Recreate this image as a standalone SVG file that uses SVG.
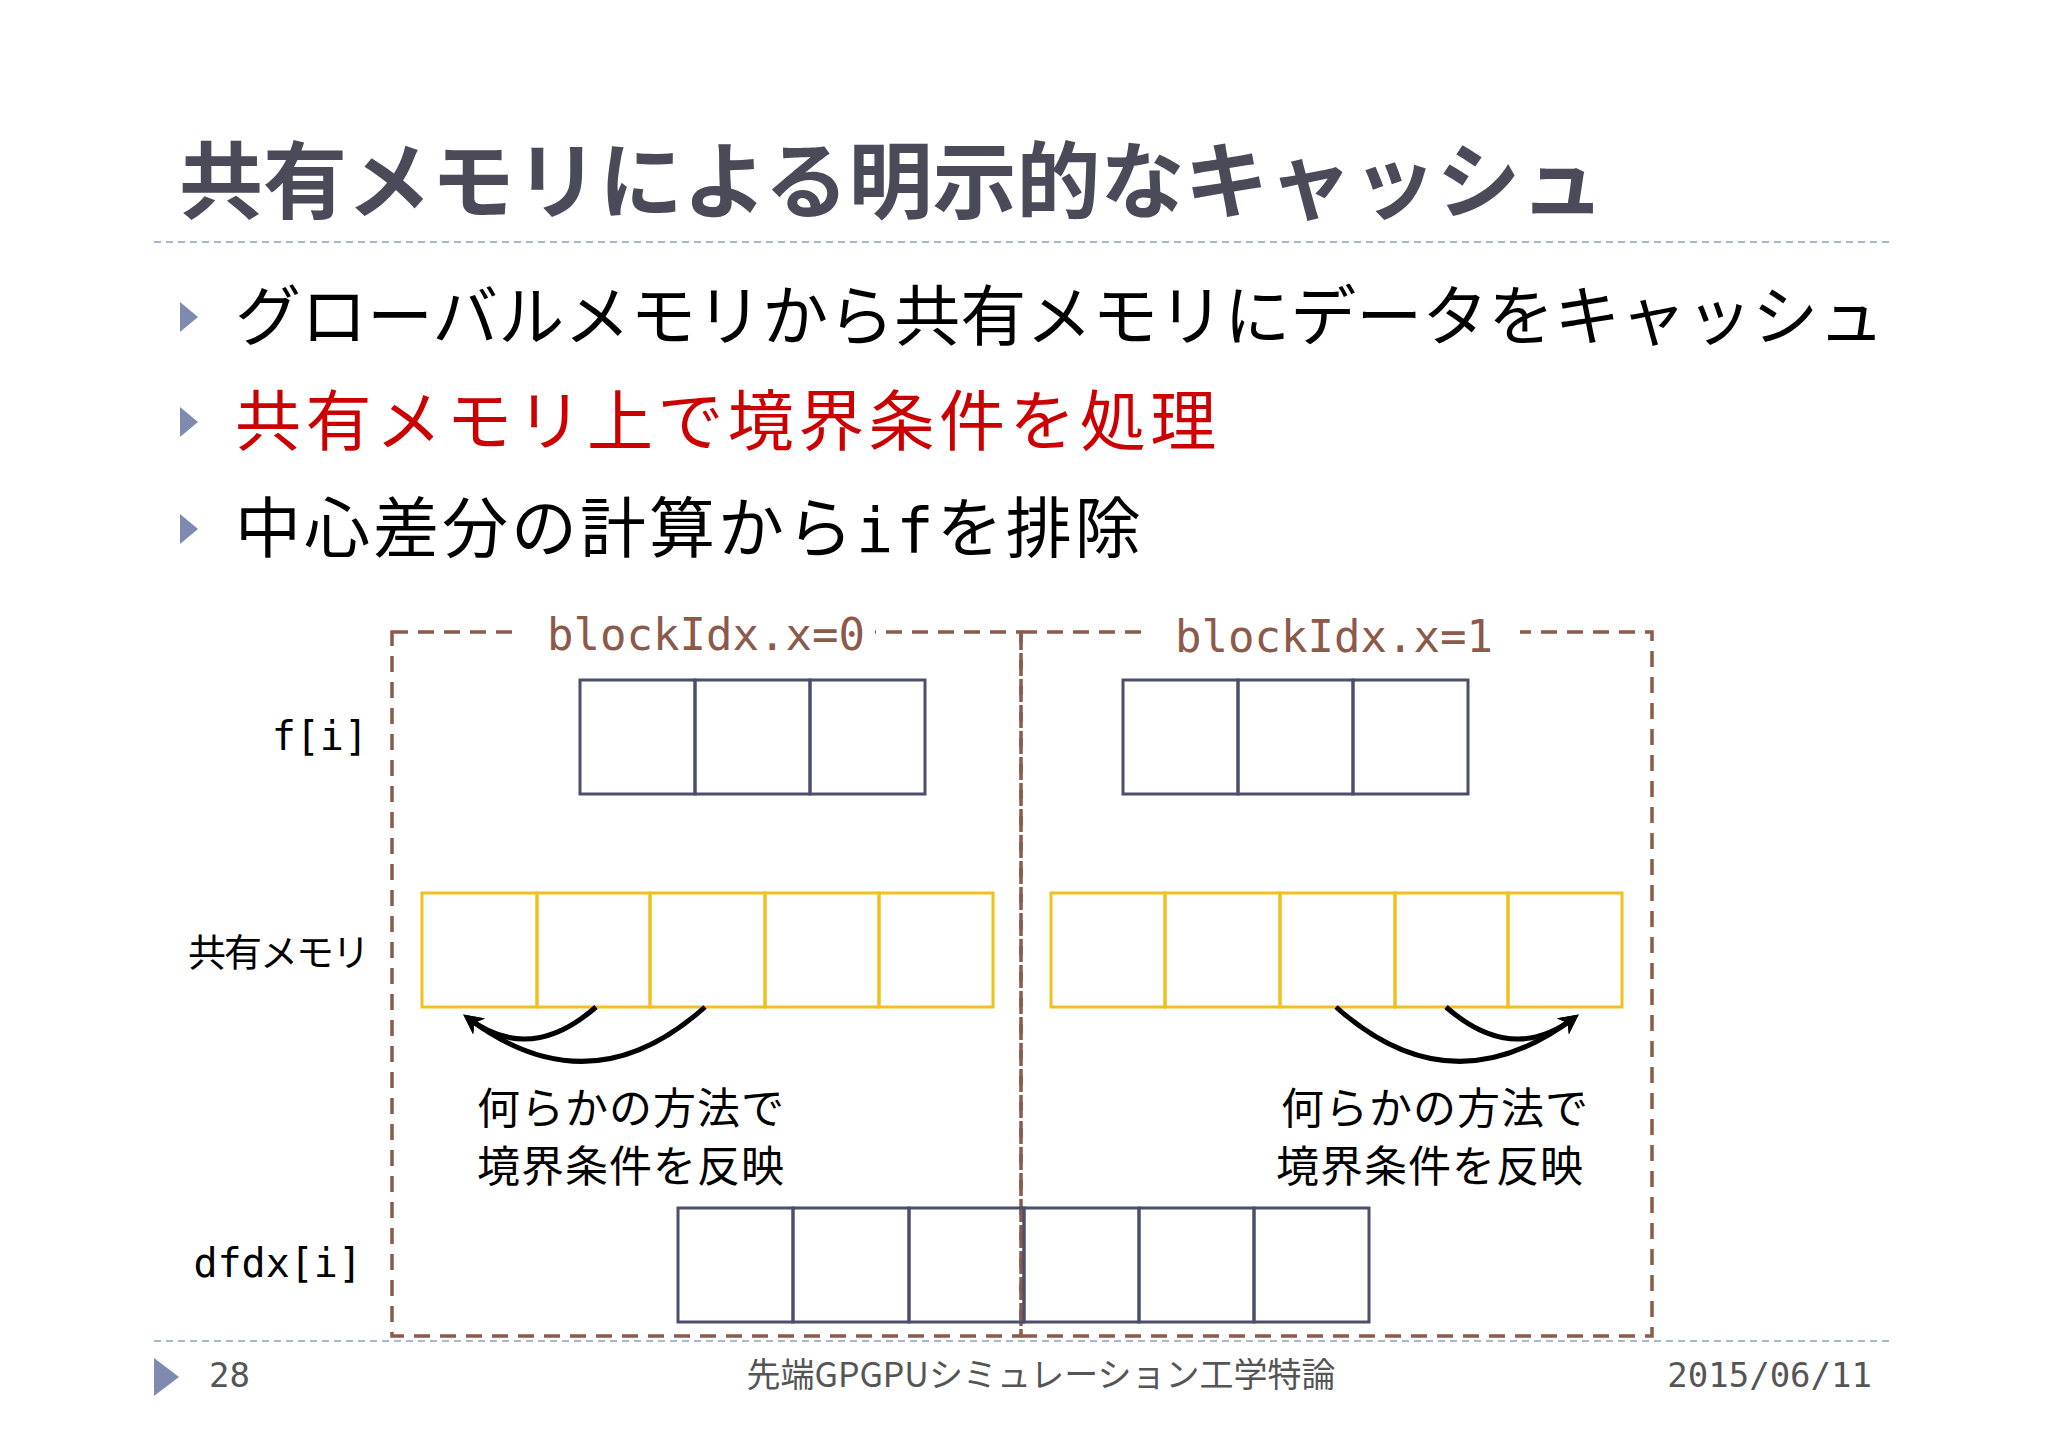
<svg xmlns="http://www.w3.org/2000/svg" width="2048" height="1448" viewBox="0 0 2048 1448">
<style>
.jp{font-family:"Noto Sans CJK JP","Noto Sans",sans-serif}
.mono{font-family:"DejaVu Sans Mono","Liberation Mono",monospace}
.cell{fill:none;stroke:#4a4f6e;stroke-width:3}
.sh{fill:none;stroke:#f0c020;stroke-width:3}
.blk{fill:none;stroke:#8b5a4a;stroke-width:3.5;stroke-dasharray:16 10}
.rule{stroke:#a8b8cc;stroke-width:2;stroke-dasharray:7 5}
.arr{fill:none;stroke:#000;stroke-width:5;marker-end:url(#ah)}
.bul{fill:#7f8ab0}
</style>
<defs>
<marker id="ah" viewBox="0 0 10 10" refX="7" refY="5" markerWidth="4" markerHeight="4" orient="auto"><path d="M0,0 L10,5 L0,10 L3,5 Z" fill="#000"/></marker>
</defs>
<rect width="2048" height="1448" fill="#fff"/>
<g id="title">
<text x="179" y="212" class="jp" font-size="84" font-weight="bold" fill="#4a4a58">共有メモリによる明示的なキャッシュ</text>
<line x1="154" y1="242" x2="1891" y2="242" class="rule"/>
</g>
<g id="bullets" class="jp" font-size="66">
<polygon class="bul" points="180,302 198,317 180,332"/>
<text x="235" y="340" fill="#000">グローバルメモリから共有メモリにデータをキャッシュ</text>
<polygon class="bul" points="180,407 198,422 180,437"/>
<text x="235" y="445" fill="#cc0000" letter-spacing="4.4">共有メモリ上で境界条件を処理</text>
<polygon class="bul" points="180,514 198,529 180,544"/>
<text x="235" y="552" fill="#000" letter-spacing="3">中心差分の計算から<tspan class="mono" font-size="62">if</tspan>を排除</text>
</g>
<g id="block0">
<rect x="392" y="632" width="629" height="704" class="blk"/>
<rect x="515" y="620" width="360" height="30" fill="#fff"/>
<text x="547" y="650" class="mono" font-size="44" fill="#8b5a4a">blockIdx.x=0</text>
</g>
<g id="block1">
<rect x="1021" y="632" width="631" height="704" class="blk"/>
<rect x="1145" y="620" width="375" height="30" fill="#fff"/>
<text x="1175" y="652" class="mono" font-size="44" fill="#8b5a4a">blockIdx.x=1</text>
</g>
<g id="labels" font-size="40" text-anchor="end">
<text x="368" y="750" class="mono">f[i]</text>
<text x="368" y="966" class="jp" font-size="38" letter-spacing="-2">共有メモリ</text>
<text x="362" y="1277" class="mono">dfdx[i]</text>
</g>
<g id="f0"><rect x="580" y="680" width="115" height="114" class="cell"/><rect x="695" y="680" width="115" height="114" class="cell"/><rect x="810" y="680" width="115" height="114" class="cell"/></g>
<g id="f1"><rect x="1123" y="680" width="115" height="114" class="cell"/><rect x="1238" y="680" width="115" height="114" class="cell"/><rect x="1353" y="680" width="115" height="114" class="cell"/></g>
<g id="s0"><rect x="422" y="893" width="115" height="114" class="sh"/><rect x="537" y="893" width="113" height="114" class="sh"/><rect x="650" y="893" width="115" height="114" class="sh"/><rect x="765" y="893" width="114" height="114" class="sh"/><rect x="879" y="893" width="114" height="114" class="sh"/></g>
<g id="s1"><rect x="1051" y="893" width="114" height="114" class="sh"/><rect x="1165" y="893" width="115" height="114" class="sh"/><rect x="1280" y="893" width="115" height="114" class="sh"/><rect x="1395" y="893" width="113" height="114" class="sh"/><rect x="1508" y="893" width="114" height="114" class="sh"/></g>
<g id="dfdx"><rect x="678" y="1208" width="115" height="114" class="cell"/><rect x="793" y="1208" width="116" height="114" class="cell"/><rect x="909" y="1208" width="115" height="114" class="cell"/><rect x="1024" y="1208" width="115" height="114" class="cell"/><rect x="1139" y="1208" width="115" height="114" class="cell"/><rect x="1254" y="1208" width="115" height="114" class="cell"/></g>
<g id="connectors">
<path class="arr" d="M596,1007 Q530,1065 468,1018"/>
<path class="arr" d="M705,1007 Q590,1110 468,1018"/>
<path class="arr" d="M1446,1007 Q1512,1065 1574,1018"/>
<path class="arr" d="M1336,1007 Q1451,1110 1574,1018"/>
</g>
<g id="notes" class="jp" font-size="43">
<text x="477" y="1124" letter-spacing="1">何らかの方法で</text>
<text x="477" y="1182" letter-spacing="1">境界条件を反映</text>
<text x="1281" y="1124" letter-spacing="1">何らかの方法で</text>
<text x="1276" y="1182" letter-spacing="1">境界条件を反映</text>
</g>
<g id="footer" font-size="34" fill="#555">
<line x1="154" y1="1341" x2="1891" y2="1341" class="rule"/>
<polygon class="bul" points="154,1358 179,1377 154,1396"/>
<text x="209" y="1387" class="mono">28</text>
<text x="1041" y="1387" class="jp" text-anchor="middle">先端GPGPUシミュレーション工学特論</text>
<text x="1872" y="1387" class="mono" text-anchor="end">2015/06/11</text>
</g>
</svg>
